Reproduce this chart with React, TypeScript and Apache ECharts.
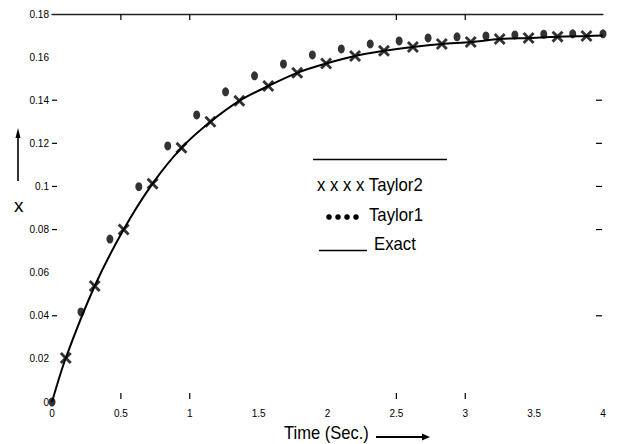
import React, { useEffect, useRef } from "react";
import * as echarts from "echarts";

// Taylor1 (dots)
const tDots = [0, 0.21, 0.42, 0.63, 0.84, 1.05, 1.26, 1.47, 1.68, 1.89, 2.1, 2.31, 2.52, 2.73, 2.94, 3.15, 3.36, 3.57, 3.78, 4.0];
const taylor1 = [0, 0.0418, 0.0756, 0.0999, 0.1188, 0.1332, 0.1439, 0.1513, 0.1568, 0.161, 0.1638, 0.1661, 0.1675, 0.1689, 0.1694, 0.1698, 0.1703, 0.1706, 0.1708, 0.1708];

// Taylor2 (crosses)
const tCross = [0.1, 0.31, 0.52, 0.73, 0.94, 1.15, 1.36, 1.57, 1.78, 1.99, 2.2, 2.41, 2.62, 2.83, 3.04, 3.25, 3.46, 3.67, 3.88];
const taylor2 = [0.0204, 0.0538, 0.08, 0.1013, 0.1179, 0.13, 0.1397, 0.1466, 0.1527, 0.157, 0.1605, 0.1629, 0.1647, 0.1661, 0.167, 0.1684, 0.1689, 0.1695, 0.1698];

// Exact (line)
const tExact = [0, 0.1, 0.31, 0.52, 0.73, 0.94, 1.15, 1.36, 1.57, 1.78, 1.99, 2.2, 2.41, 2.62, 2.83, 3.04, 3.25, 3.46, 3.67, 3.88, 4.0];
const exact = [0, 0.0204, 0.0538, 0.08, 0.1013, 0.1179, 0.13, 0.1397, 0.1466, 0.1527, 0.157, 0.1605, 0.1629, 0.1647, 0.1661, 0.167, 0.1684, 0.1689, 0.1695, 0.1698, 0.17];

// Axis ticks that are drawn in the reference
const yTickValues = [0.04, 0.08, 0.1, 0.12, 0.14];
const xTickValues = [0.5, 1, 2.5, 3];

const X_MIN = 0, X_MAX = 4, X_INT = 0.5;
const Y_MIN = 0, Y_MAX = 0.18, Y_INT = 0.02;

const FONT = "Liberation Sans, Arial, sans-serif";
const crossPath =
  "path://M0,1.7 L1.7,0 L5,3.3 L8.3,0 L10,1.7 L6.7,5 L10,8.3 L8.3,10 L5,6.7 L1.7,10 L0,8.3 L3.3,5 Z";

const txt = (text: string, x: number, y: number, size: number, sx = 0.93) => ({
  type: "text",
  x,
  y,
  scaleX: sx,
  style: {
    text,
    font: `${size}px ${FONT}`,
    fill: "#000",
    textAlign: "left",
    textVerticalAlign: "middle",
    align: "left",
    verticalAlign: "middle",
  },
});

export default function App() {
  const ref = useRef<HTMLDivElement>(null);
  useEffect(() => {
    if (!ref.current) return;
    const chart = echarts.init(ref.current, null, { renderer: "svg" });
    const option: any = {
      animation: false,
      backgroundColor: "#ffffff",
      grid: { left: 52, right: 15, top: 14, bottom: 42, containLabel: false },
      xAxis: [
        {
          type: "value",
          min: X_MIN,
          max: X_MAX,
          interval: X_INT,
          axisLine: { show: false },
          axisTick: { show: false },
          splitLine: { show: false },
          axisLabel: { fontSize: 10, color: "#000", fontFamily: FONT, margin: 6 },
        },
        {
          type: "value",
          position: "top",
          min: X_MIN,
          max: X_MAX,
          interval: X_INT,
          axisLine: { show: true, onZero: false, lineStyle: { color: "#222", width: 1.3 } },
          axisTick: { show: false },
          splitLine: { show: false },
          axisLabel: { show: false },
        },
      ],
      yAxis: {
        type: "value",
        min: Y_MIN,
        max: Y_MAX,
        interval: Y_INT,
        axisLine: { show: false },
        axisTick: { show: false },
        splitLine: { show: false },
        axisLabel: { fontSize: 10, color: "#000", fontFamily: FONT, margin: 3 },
      },
      graphic: [
        // legend
        { type: "line", shape: { x1: 313, y1: 159.5, x2: 447, y2: 159.5 }, style: { stroke: "#000", lineWidth: 1.5 } },
        txt("x x x x Taylor2", 317, 185, 18),
        { type: "circle", shape: { cx: 329, cy: 217, r: 2.8 }, style: { fill: "#000" } },
        { type: "circle", shape: { cx: 338, cy: 217, r: 2.8 }, style: { fill: "#000" } },
        { type: "circle", shape: { cx: 347, cy: 217, r: 2.8 }, style: { fill: "#000" } },
        { type: "circle", shape: { cx: 356, cy: 217, r: 2.8 }, style: { fill: "#000" } },
        txt("Taylor1", 369, 215, 18),
        { type: "line", shape: { x1: 319, y1: 250.5, x2: 367, y2: 250.5 }, style: { stroke: "#000", lineWidth: 1.5 } },
        txt("Exact", 374, 244, 18),
        // x-axis title with arrow
        txt("Time (Sec.)", 284, 433, 18, 0.92),
        { type: "line", shape: { x1: 376, y1: 437, x2: 424, y2: 437 }, style: { stroke: "#000", lineWidth: 2.2 } },
        { type: "polygon", shape: { points: [[422, 433.5], [430, 437], [422, 440.5]] }, style: { fill: "#000" } },
        // y-axis title with arrow
        txt("x", 14, 205, 19, 1),
        { type: "line", shape: { x1: 18, y1: 181, x2: 18, y2: 136 }, style: { stroke: "#000", lineWidth: 1.6 } },
        { type: "polygon", shape: { points: [[15.5, 138], [18, 128], [20.5, 138]] }, style: { fill: "#000" } },
      ],
      series: [
        {
          name: "Exact",
          type: "line",
          data: tExact.map((t, i) => [t, exact[i]]),
          smooth: 0.3,
          showSymbol: false,
          symbol: "none",
          lineStyle: { color: "#000", width: 2 },
          z: 2,
        },
        {
          name: "Taylor2",
          type: "scatter",
          data: tCross.map((t, i) => [t, taylor2[i]]),
          symbol: crossPath,
          symbolSize: 12,
          itemStyle: { color: "#000" },
          z: 3,
        },
        {
          name: "Taylor1",
          type: "scatter",
          data: tDots.map((t, i) => [t, taylor1[i]]),
          symbol: "circle",
          symbolSize: [7, 9],
          itemStyle: { color: "#000" },
          z: 3,
        },
        {
          name: "yTicks",
          type: "custom",
          silent: true,
          clip: false,
          data: yTickValues.map((v) => [X_MIN, v]),
          renderItem: (params: any, api: any) => {
            const v = api.value(1);
            const l = api.coord([X_MIN, v]);
            const r = api.coord([X_MAX, v]);
            return {
              type: "group",
              children: [
                { type: "line", shape: { x1: l[0], y1: l[1], x2: l[0] + 5, y2: l[1] }, style: { stroke: "#000", lineWidth: 1.2 } },
                { type: "line", shape: { x1: r[0] - 7, y1: r[1], x2: r[0] - 1, y2: r[1] }, style: { stroke: "#000", lineWidth: 1.2 } },
              ],
            };
          },
          z: 1,
        },
        {
          name: "xTicks",
          type: "custom",
          silent: true,
          clip: false,
          data: xTickValues.map((v) => [v, Y_MIN]),
          renderItem: (params: any, api: any) => {
            const v = api.value(0);
            const b = api.coord([v, Y_MIN]);
            const t = api.coord([v, Y_MAX]);
            return {
              type: "group",
              children: [
                { type: "line", shape: { x1: b[0], y1: b[1] - 3, x2: b[0], y2: b[1] - 9 }, style: { stroke: "#000", lineWidth: 1.2 } },
                { type: "line", shape: { x1: t[0], y1: t[1], x2: t[0], y2: t[1] + 6 }, style: { stroke: "#000", lineWidth: 1.2 } },
              ],
            };
          },
          z: 1,
        },
      ],
    };
    chart.setOption(option);
    return () => chart.dispose();
  }, []);
  return <div ref={ref} style={{ position: "absolute", left: 0, top: 0, width: 618, height: 444 }} />;
}
